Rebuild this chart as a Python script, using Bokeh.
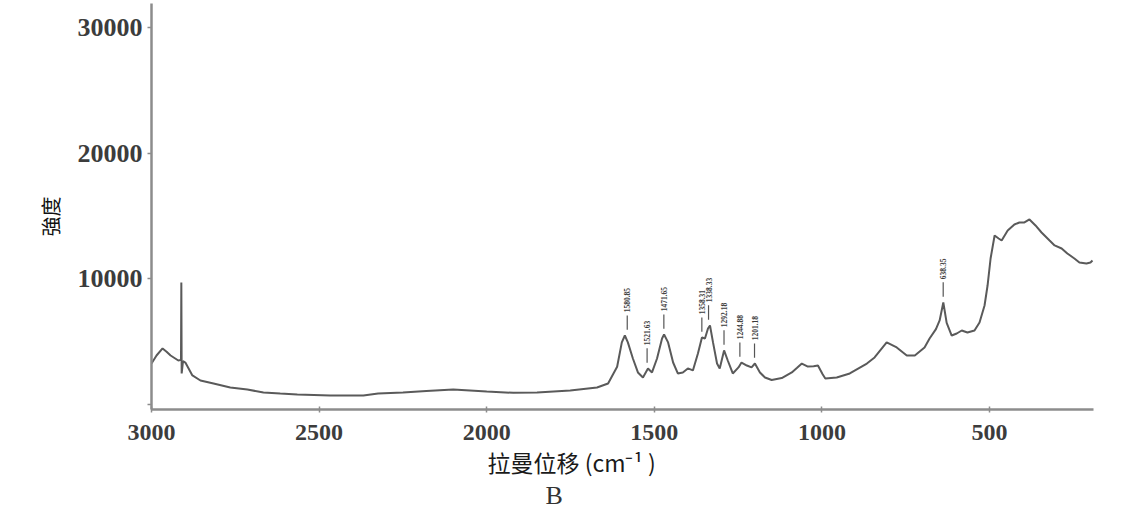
import math
from bokeh.plotting import figure
from bokeh.models import Range1d, FixedTicker, Title, ColumnDataSource
from bokeh.core.properties import value
from bokeh.embed import file_html
from bokeh.resources import INLINE

# ---- data ----
raman_shift = [3000, 2985, 2967, 2955, 2943, 2920, 2912, 2911, 2910, 2906, 2899, 2878, 2854, 2815,
               2765, 2714, 2666, 2616, 2565, 2467, 2368, 2324, 2250, 2180, 2100, 2000, 1921, 1850,
               1751, 1671, 1638, 1611, 1597, 1588, 1579, 1564, 1549, 1534, 1519, 1507, 1492, 1477,
               1471, 1459, 1444, 1430, 1415, 1400, 1385, 1370, 1358, 1349, 1340, 1334, 1325, 1313,
               1305, 1292, 1281, 1266, 1249, 1240, 1224, 1210, 1200, 1185, 1170, 1150, 1120, 1090,
               1075, 1060, 1042, 1025, 1012, 998, 990, 956, 917, 866, 843, 807, 777, 747, 723, 694,
               679, 660, 649, 638, 628, 613, 598, 583, 566, 545, 530, 515, 506, 497, 485, 473, 464,
               446, 426, 411, 396, 381, 363, 345, 321, 306, 285, 268, 247, 232, 211, 199, 193]
intensity = [3260, 3900, 4460, 4200, 3900, 3500, 3550, 9710, 2470, 3450, 3340, 2310, 1910, 1670,
             1350, 1190, 955, 875, 800, 720, 720, 875, 955, 1080, 1190, 1035, 930, 955,
             1115, 1350, 1670, 3000, 4940, 5490, 4940, 3660, 2550, 2150, 2870, 2550, 3660, 5250,
             5570, 4940, 3340, 2470, 2550, 2870, 2710, 4060, 5330, 5250, 6050, 6290, 4940, 3260,
             2870, 4300, 3500, 2470, 2950, 3340, 3100, 2950, 3260, 2550, 2150, 1950, 2100, 2550,
             2900, 3260, 3020, 3050, 3100, 2400, 2070, 2150, 2470, 3260, 3740, 4940, 4540, 3900, 3900, 4540,
             5250, 6000, 6690, 8120, 6500, 5490, 5650, 5890, 5730, 5890, 6530, 7880, 9470, 11620, 13450, 13210, 13050,
             13850, 14330, 14490, 14490, 14730, 14250, 13690, 13050, 12660, 12420, 12020, 11620, 11300, 11220, 11300, 11460]

peak_labels = ["1580.85", "1521.63", "1471.65", "1358.31", "1338.33", "1292.18", "1244.88", "1201.18", "638.35"]
peak_pos = [1580.85, 1521.63, 1471.65, 1358.31, 1338.33, 1292.18, 1244.88, 1201.18, 638.35]
peak_height = [5490, 2870, 5570, 5330, 6290, 4300, 3340, 3260, 8120]

x_ticks = [3000, 2500, 2000, 1500, 1000, 500]
y_ticks = [0, 10000, 20000, 30000]

x_title = "拉曼位移 (cm\u207b\u00b9 )"
y_title = "強度"
sub_title = "B"

# ---- figure ----
p = figure(width=1121, height=510, x_range=Range1d(3000, 190), y_range=Range1d(-400, 31920),
           output_backend="svg", toolbar_location=None,
           min_border_left=151, min_border_right=28, min_border_top=3, min_border_bottom=101)
p.grid.visible = False
p.outline_line_color = None
p.background_fill_color = "white"

p.line(raman_shift, intensity, line_color="#5a5a5a", line_width=2)

# peak markers
seg = ColumnDataSource(dict(x=peak_pos,
                            y0=[h + 450 for h in peak_height],
                            y1=[h + 1600 for h in peak_height],
                            ty=[h + 1850 for h in peak_height],
                            t=peak_labels))
p.segment(x0="x", y0="y0", x1="x", y1="y1", source=seg, line_color="#555555", line_width=1.2)
p.text(x="x", y="ty", text="t", source=seg, angle=math.pi / 2, text_align="left",
       text_baseline="middle", text_font=value("Liberation Serif"), text_font_size="7.5px",
       text_font_style="bold", text_color="#3a3a3a")

# axes
for ax in (p.xaxis[0], p.yaxis[0]):
    ax.axis_line_color = "#8c8c8c"
    ax.axis_line_width = 2.5
    ax.major_tick_line_color = "#8c8c8c"
    ax.major_tick_line_width = 1.5
    ax.minor_tick_line_color = None
    ax.major_label_text_font = "Liberation Serif"
    ax.major_label_text_font_style = "bold"
    ax.major_label_text_color = "#3c3c3c"

p.xaxis.ticker = FixedTicker(ticks=x_ticks)
p.xaxis.major_tick_in = 3
p.xaxis.major_tick_out = 3
p.xaxis.major_label_text_font_size = "24px"
p.xaxis.major_label_standoff = 12

p.yaxis.ticker = FixedTicker(ticks=y_ticks)
p.yaxis.major_label_overrides = {0: ""}
p.yaxis.major_tick_in = 0
p.yaxis.major_tick_out = 4
p.yaxis.major_label_text_font_size = "26px"
p.yaxis.major_label_standoff = 5
p.yaxis.axis_label = y_title + "\u3000"
p.yaxis.axis_label_text_font = "Noto Sans CJK SC"
p.yaxis.axis_label_text_font_style = "normal"
p.yaxis.axis_label_text_font_size = "20px"
p.yaxis.axis_label_text_color = "#111111"
p.yaxis.axis_label_standoff = 10

t1 = Title(text=x_title, align="left", offset=336, standoff=0,
           text_font="Noto Sans CJK SC", text_font_size="23px", text_font_style="normal",
           text_color="#1a1a1a")
t2 = Title(text=sub_title, align="left", offset=394, standoff=0,
           text_font="Liberation Serif", text_font_size="26px", text_font_style="normal",
           text_color="#333333")
p.add_layout(t1, "below")
p.add_layout(t2, "below")

open("out.html", "w").write(file_html(p, INLINE))
